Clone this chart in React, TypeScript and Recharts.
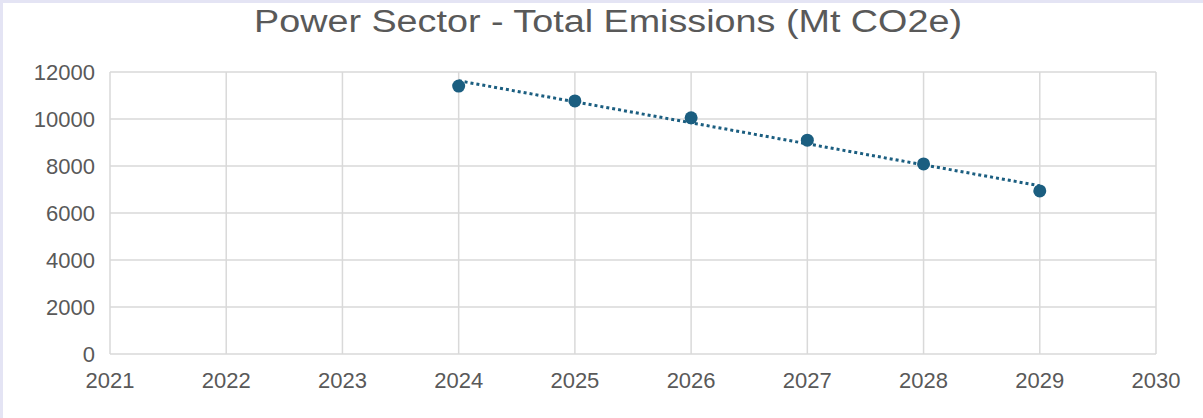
import { ScatterChart, Scatter, XAxis, YAxis, CartesianGrid } from "recharts"

const years = [2024, 2025, 2026, 2027, 2028, 2029]
const emissions = [11400, 10770, 10050, 9100, 8090, 6940]
const xTicks = [2021, 2022, 2023, 2024, 2025, 2026, 2027, 2028, 2029, 2030]
const yTicks = [0, 2000, 4000, 6000, 8000, 10000, 12000]

const points = years.map((year, i) => ({ year, value: emissions[i] }))

const tickStyle = { fontSize: 22, fill: "#595959", fontFamily: "'Liberation Sans', Arial, sans-serif" }

const Dot = (props: any) => <circle cx={props.cx} cy={props.cy} r={6.5} fill="#1b5e80" />

export default function App() {
  return (
    <div style={{ position: "absolute", left: 0, top: 0, width: 1203, height: 418, background: "#e4e4f4" }}>
      <div style={{ position: "absolute", left: 3, top: 3, width: 1200, height: 415, background: "#fff" }} />
      <div
        style={{
          position: "absolute",
          left: 8,
          top: 6,
          width: 1200,
          textAlign: "center",
          fontFamily: "'Liberation Sans', Arial, sans-serif",
          fontSize: 31,
          lineHeight: "31px",
          color: "#595959",
          transform: "scaleX(1.217)",
          transformOrigin: "600px 0",
        }}
      >
        Power Sector - Total Emissions (Mt CO2e)
      </div>
      <div style={{ position: "absolute", left: 0, top: 0 }}>
        <ScatterChart width={1203} height={418} margin={{ top: 72, right: 47, left: 0, bottom: 0 }}>
          <CartesianGrid stroke="#d9d9d9" strokeWidth={1.5} />
          <XAxis
            type="number"
            dataKey="year"
            domain={[2021, 2030]}
            ticks={xTicks}
            interval={0}
            axisLine={false}
            tickLine={false}
            tickSize={0}
            tickMargin={18}
            height={64}
            tick={tickStyle}
          />
          <YAxis
            type="number"
            dataKey="value"
            domain={[0, 12000]}
            ticks={yTicks}
            interval={0}
            axisLine={false}
            tickLine={false}
            tickSize={0}
            tickMargin={15}
            width={110}
            tick={tickStyle}
          />
          <Scatter
            data={points}
            fill="#1b5e80"
            shape={Dot}
            lineType="fitting"
            line={{ stroke: "#1b5e80", strokeWidth: 3, strokeDasharray: "3 3" }}
            isAnimationActive={false}
          />
        </ScatterChart>
      </div>
    </div>
  )
}
